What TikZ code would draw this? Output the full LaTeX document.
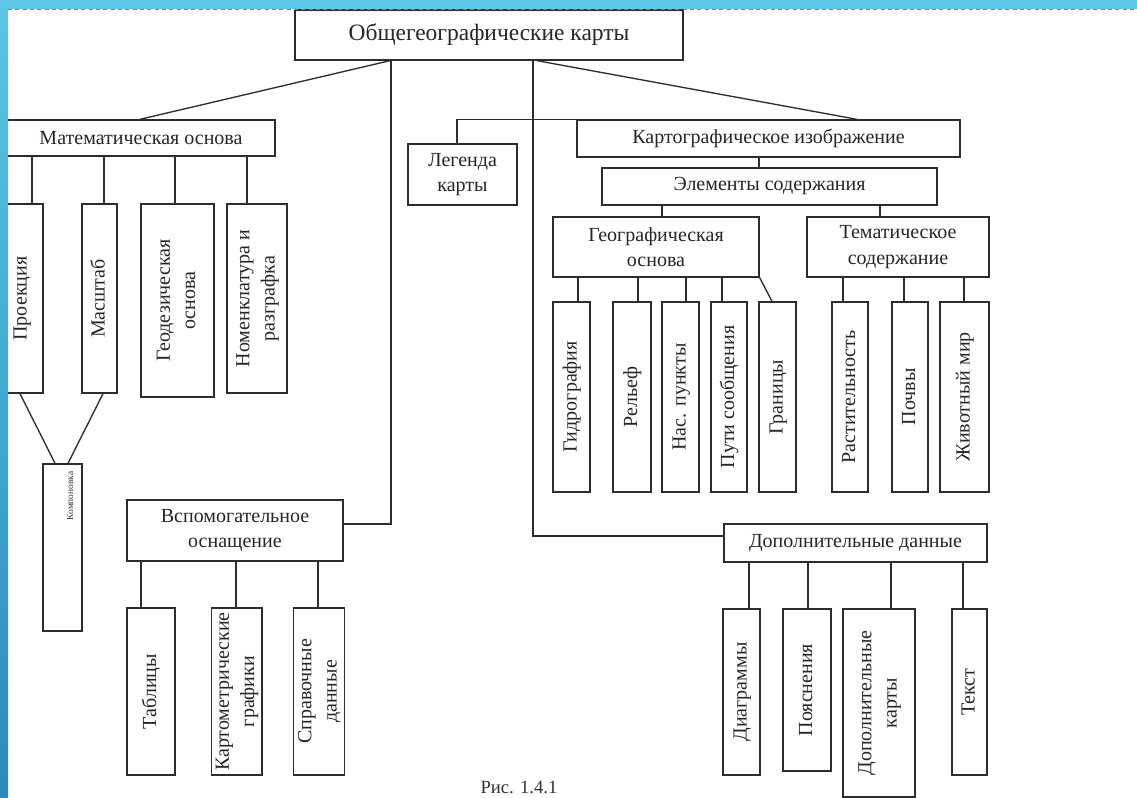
\documentclass[tikz,border=0pt]{standalone}
\usepackage{fontspec}
\usepackage{graphicx}
\setmainfont{Liberation Serif}
\definecolor{lineC}{RGB}{45,45,45}
\definecolor{bandC}{RGB}{92,198,229}
\definecolor{stripTop}{RGB}{92,196,228}
\definecolor{stripBot}{RGB}{44,138,190}
\definecolor{dashC}{RGB}{120,130,135}
\tikzset{
  box/.style={draw=lineC, line width=1pt, fill=white, inner sep=0pt, align=center,
              font=\fontsize{15}{19}\selectfont, text=black!85},
  conn/.style={draw=lineC, line width=1pt},
}
\newcommand\mybox[6]{\node[box, minimum width={(#4-#2)*0.75pt}, minimum height={(#5-#3)*0.75pt}] (#1) at ({(#2+#4)/2},{(#3+#5)/2}) {#6};}
\newcommand\vtext[1]{\rotatebox{90}{\begin{tabular}{@{}c@{}}#1\end{tabular}}}
\begin{document}
\begin{tikzpicture}[x=0.75pt,y=-0.75pt]
\useasboundingbox (0,0) rectangle (1137,798);
\fill[white] (0,0) rectangle (1137,798);

% top
\mybox{root}{295}{10}{683}{60}{\fontsize{17.6}{20}\selectfont Общегеографические карты}

% mathematical basis
\mybox{math}{7}{120}{275}{156}{Математическая основа}
\mybox{proj}{0}{204}{43}{393}{\vtext{Проекция}}
\mybox{masht}{82}{204}{117}{393}{\vtext{Масштаб}}
\mybox{geod}{141}{204}{214}{397}{\vtext{Геодезическая\\основа}}
\mybox{nomen}{227}{204}{287}{393}{\vtext{Номенклатура и\\разграфка}}
\mybox{komp}{43}{464}{82}{631}{}
\node[font=\fontsize{7}{8}\selectfont, text=black!80, inner sep=0pt] (kompt) at (70,496) {\rotatebox{90}{Компоновка}};

% auxiliary
\mybox{vsp}{127}{500}{343}{561}{Вспомогательное\\оснащение}
\mybox{tabl}{127}{608}{175}{775}{\vtext{Таблицы}}
\mybox{kmg}{214}{608}{259}{775}{\vtext{Картометрические\\графики}}
\mybox{sprav}{295}{608}{343}{775}{\vtext{Справочные\\данные}}

% legend, cartographic image
\mybox{leg}{408}{144}{517}{205}{Легенда\\карты}
\mybox{kart}{577}{120}{960}{157}{Картографическое изображение}
\mybox{elem}{602}{168}{937}{205}{Элементы содержания}
\mybox{geo}{553}{217}{759}{277}{Географическая\\основа}
\mybox{tem}{807}{217}{989}{277}{Тематическое\\содержание}

\mybox{gidro}{553}{302}{590}{492}{\vtext{Гидрография}}
\mybox{rel}{613}{302}{651}{492}{\vtext{Рельеф}}
\mybox{nas}{662}{302}{699}{492}{\vtext{Нас. пункты}}
\mybox{puti}{711}{302}{747}{492}{\vtext{Пути сообщения}}
\mybox{gran}{759}{302}{796}{492}{\vtext{Границы}}

\mybox{rast}{832}{302}{868}{492}{\vtext{Растительность}}
\mybox{poch}{892}{302}{928}{492}{\vtext{Почвы}}
\mybox{ziv}{940}{302}{989}{492}{\vtext{Животный мир}}

% additional data
\mybox{dop}{724}{524}{987}{562}{Дополнительные данные}
\mybox{diag}{723}{609}{760}{775}{\vtext{Диаграммы}}
\mybox{poya}{783}{609}{831}{771}{\vtext{Пояснения}}
\mybox{dopk}{843}{609}{915}{797}{\vtext{Дополнительные\\карты}}
\mybox{tekst}{952}{609}{987}{775}{\vtext{Текст}}

% caption
\node[font=\fontsize{14}{16}\selectfont, text=black!80, inner sep=0pt] (cap) at (519,787) {Рис. 1.4.1};

% connectors from root
\draw[conn] (root.south -| 390,0) -- (math.north -| 140,0);
\draw[conn] (root.south -| 391,0) |- (vsp.east |- 0,524);
\draw[conn] (root.south -| 533,0) |- (dop.west |- 0,536);
\draw[conn] (root.south -| 537,0) -- (kart.north -| 857,0);
\draw[conn] (leg.north -| 457,0) |- (kart.north west);

% math children
\foreach \n/\x in {proj/32, masht/104, geod/175, nomen/247}
  \draw[conn] (math.south -| \x,0) -- (\n.north -| \x,0);
\draw[conn] (proj.south -| 20,0) -- (komp.north -| 55,0);
\draw[conn] (masht.south -| 103,0) -- (komp.north -| 68,0);

% auxiliary children
\foreach \n/\x in {tabl/141, kmg/236, sprav/318}
  \draw[conn] (vsp.south -| \x,0) -- (\n.north -| \x,0);

% cartographic image
\draw[conn] (kart.south -| 759,0) -- (elem.north -| 759,0);
\draw[conn] (elem.south -| 662,0) -- (geo.north -| 662,0);
\draw[conn] (elem.south -| 880,0) -- (tem.north -| 880,0);
\foreach \n/\x in {gidro/578, rel/638, nas/686, puti/722}
  \draw[conn] (geo.south -| \x,0) -- (\n.north -| \x,0);
\draw[conn] (geo.south east) -- (gran.north -| 772,0);
\foreach \n/\x in {rast/843, poch/904, ziv/964}
  \draw[conn] (tem.south -| \x,0) -- (\n.north -| \x,0);

% additional data children
\foreach \n/\x in {diag/749, poya/808, dopk/891, tekst/963}
  \draw[conn] (dop.south -| \x,0) -- (\n.north -| \x,0);

% frame decoration
\fill[bandC] (0,0) rectangle (1137,9);
\shade[top color=stripTop, bottom color=stripBot] (0,0) rectangle (8,798);
\draw[dashC, line width=0.9pt, dash pattern=on 3pt off 2.5pt] (8,9.8) -- (1137,9.8);
\end{tikzpicture}
\end{document}
